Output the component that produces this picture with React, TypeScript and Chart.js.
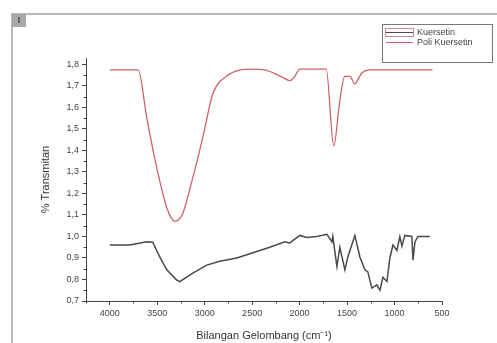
import React, { useEffect, useRef } from "react";
import { Chart, registerables } from "chart.js";

Chart.register(...registerables);

// Kuersetin (black curve)
const kuersetinWave = [4000, 3790, 3610, 3547, 3473, 3399, 3294, 3262, 3125, 2978, 2841, 2662, 2524, 2314, 2156, 2103, 1997, 1924, 1818, 1713, 1681, 1660, 1650, 1607, 1576, 1523, 1492, 1418, 1365, 1312, 1281, 1239, 1186, 1154, 1122, 1080, 1049, 1017, 975, 944, 922, 891, 817, 806, 785, 754, 627];
const kuersetinT = [0.96, 0.96, 0.975, 0.973, 0.905, 0.845, 0.797, 0.79, 0.83, 0.867, 0.885, 0.9, 0.92, 0.95, 0.975, 0.97, 1.005, 0.995, 1.0, 1.01, 0.99, 0.975, 1.0, 0.86, 0.95, 0.845, 0.905, 1.005, 0.905, 0.845, 0.835, 0.76, 0.775, 0.75, 0.81, 0.79, 0.9, 0.96, 0.935, 1.0, 0.955, 1.005, 1.0, 0.89, 0.975, 1.0, 1.0];

// Poli Kuersetin (red curve)
const poliWave = [4000, 3700, 3610, 3505, 3400, 3350, 3315, 3270, 3230, 3125, 3020, 2914, 2767, 2630, 2500, 2370, 2200, 2100, 2050, 2000, 1720, 1640, 1580, 1525, 1470, 1420, 1345, 1260, 600];
const poliT = [1.775, 1.775, 1.552, 1.32, 1.135, 1.085, 1.07, 1.08, 1.107, 1.274, 1.46, 1.663, 1.746, 1.774, 1.778, 1.775, 1.745, 1.725, 1.745, 1.778, 1.778, 1.42, 1.62, 1.745, 1.745, 1.71, 1.76, 1.775, 1.775];

const seriesNames = ["Kuersetin", "Poli Kuersetin"];
const seriesColors = ["#4a4a4a", "#d0606c"];
const xTitle = "Bilangan Gelombang (cm\u207B\u00B9)";
const yTitle = "% Transmitan";

const FONT = "'Liberation Sans', Arial, sans-serif";

export default function App() {
  const ref = useRef<HTMLCanvasElement | null>(null);

  useEffect(() => {
    document.body.style.margin = "0";
    const canvas = ref.current;
    if (!canvas) return;

    const minorTicks = {
      id: "minorTicks",
      afterDraw(chart: any) {
        const ctx = chart.ctx;
        const xs = chart.scales.x;
        const ys = chart.scales.y;
        const area = chart.chartArea;
        ctx.save();
        ctx.strokeStyle = "#444";
        ctx.lineWidth = 1;
        ctx.beginPath();
        for (let v = 750; v <= 4250; v += 500) {
          const px = Math.round(xs.getPixelForValue(v)) + 0.5;
          ctx.moveTo(px, area.bottom);
          ctx.lineTo(px, area.bottom + 2.5);
        }
        for (let v = 0.75; v < 1.83; v += 0.1) {
          const py = Math.round(ys.getPixelForValue(v)) + 0.5;
          ctx.moveTo(area.left, py);
          ctx.lineTo(area.left - 2.5, py);
        }
        ctx.stroke();
        ctx.restore();
      },
    };

    const decor = {
      id: "decor",
      afterDraw(chart: any) {
        const ctx = chart.ctx;
        ctx.save();
        // outer frame
        ctx.strokeStyle = "#b8b8b8";
        ctx.lineWidth = 2;
        ctx.beginPath();
        ctx.moveTo(12, 343);
        ctx.lineTo(12, 14);
        ctx.lineTo(497, 14);
        ctx.stroke();
        ctx.fillStyle = "#a8a8a8";
        ctx.fillRect(12, 14, 14, 13);
        ctx.fillStyle = "#666";
        ctx.fillRect(18, 17, 2, 6);
        // legend
        ctx.strokeStyle = "#777";
        ctx.lineWidth = 1;
        ctx.strokeRect(382.5, 24.5, 110, 38);
        ctx.strokeStyle = "#d08890";
        ctx.strokeRect(385.5, 28.5, 28, 8);
        ctx.strokeStyle = seriesColors[0];
        ctx.beginPath();
        ctx.moveTo(386, 32.5);
        ctx.lineTo(413, 32.5);
        ctx.stroke();
        ctx.strokeStyle = seriesColors[1];
        ctx.beginPath();
        ctx.moveTo(386, 42.5);
        ctx.lineTo(413, 42.5);
        ctx.stroke();
        ctx.fillStyle = "#444";
        ctx.font = `9px ${FONT}`;
        ctx.textBaseline = "middle";
        ctx.textAlign = "left";
        ctx.fillText(seriesNames[0], 417, 32.5);
        ctx.fillText(seriesNames[1], 417, 42.5);
        ctx.restore();
      },
    };

    const chart = new Chart(canvas, {
      type: "line",
      data: {
        datasets: [
          {
            label: seriesNames[0],
            data: kuersetinWave.map((w, i) => ({ x: w, y: kuersetinT[i] })),
            borderColor: seriesColors[0],
            borderWidth: 1.5,
            pointRadius: 0,
            tension: 0,
          },
          {
            label: seriesNames[1],
            data: poliWave.map((w, i) => ({ x: w, y: poliT[i] })),
            borderColor: seriesColors[1],
            borderWidth: 1.3,
            pointRadius: 0,
            cubicInterpolationMode: "monotone",
          },
        ],
      },
      options: {
        animation: false,
        responsive: false,
        layout: { padding: { left: 0, top: 58, right: 55, bottom: 0 } },
        plugins: { legend: { display: false }, tooltip: { enabled: false } },
        scales: {
          x: {
            type: "linear",
            reverse: true,
            min: 500,
            max: 4250,
            afterBuildTicks: (scale: any) => {
              scale.ticks = [4000, 3500, 3000, 2500, 2000, 1500, 1000, 500].map((v) => ({ value: v }));
            },
            afterFit: (scale: any) => {
              scale.height = 42;
            },
            grid: { drawOnChartArea: false, tickLength: 4, color: "#444" },
            border: { color: "#444", width: 1 },
            ticks: {
              color: "#444",
              font: { family: FONT, size: 9 },
              padding: 3,
              maxRotation: 0,
              autoSkip: false,
              callback: (v: any) => String(v),
            },
            title: {
              display: true,
              text: xTitle,
              color: "#333",
              font: { family: FONT, size: 11 },
              padding: { top: 2, bottom: 0 },
            },
          },
          y: {
            min: 0.7,
            max: 1.83,
            afterBuildTicks: (scale: any) => {
              const t = [];
              for (let i = 7; i <= 18; i++) t.push({ value: i / 10 });
              scale.ticks = t;
            },
            afterFit: (scale: any) => {
              scale.width = 86;
            },
            grid: { drawOnChartArea: false, tickLength: 4, color: "#444" },
            border: { color: "#444", width: 1 },
            ticks: {
              color: "#444",
              font: { family: FONT, size: 9 },
              padding: 3,
              autoSkip: false,
              callback: (v: any) => Number(v).toFixed(1).replace(".", ","),
            },
            title: {
              display: true,
              text: yTitle,
              color: "#333",
              font: { family: FONT, size: 11 },
              padding: { top: 39, bottom: 0 },
            },
          },
        },
      },
      plugins: [minorTicks, decor],
    });
    return () => chart.destroy();
  }, []);

  return (
    <div style={{ position: "relative", width: 497, height: 343, background: "#fff" }}>
      <canvas ref={ref} width={497} height={343} style={{ display: "block", width: 497, height: 343 }} />
    </div>
  );
}
